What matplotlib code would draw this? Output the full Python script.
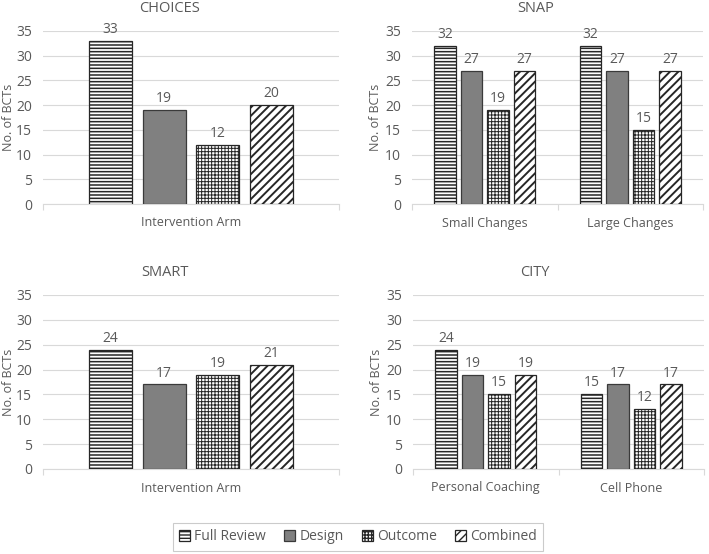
import numpy as np
import matplotlib.pyplot as plt
from matplotlib.patches import Patch

plt.rcParams['font.family'] = ['Open Sans', 'DejaVu Sans']

series = ['Full Review', 'Design', 'Outcome', 'Combined']

choices_cats = ['Intervention Arm']
choices_full = [33]
choices_design = [19]
choices_outcome = [12]
choices_combined = [20]

snap_cats = ['Small Changes', 'Large Changes']
snap_full = [32, 32]
snap_design = [27, 27]
snap_outcome = [19, 15]
snap_combined = [27, 27]

smart_cats = ['Intervention Arm']
smart_full = [24]
smart_design = [17]
smart_outcome = [19]
smart_combined = [21]

city_cats = ['Personal Coaching', 'Cell Phone']
city_full = [24, 15]
city_design = [19, 17]
city_outcome = [15, 12]
city_combined = [19, 17]

txt = '#595959'
grid = '#d9d9d9'
styles = [
    dict(facecolor='white', edgecolor='#262626', hatch='-----'),
    dict(facecolor='#808080', edgecolor='#3a3a3a'),
    dict(facecolor='white', edgecolor='#262626', hatch='+++++'),
    dict(facecolor='white', edgecolor='#262626', hatch='////'),
]
hatch_lw = [1.1, 1.0, 0.7, 1.4]

W, H = 709, 554
fig = plt.figure(figsize=(W / 100, H / 100), dpi=100)


def box(x0, x1, ytop, ybot):
    return [x0 / W, 1 - ybot / H, (x1 - x0) / W, (ybot - ytop) / H]


def panel(rect, title, tx, ty, ylx, cats, data):
    ax = fig.add_axes(rect)
    n = len(cats)
    x = np.arange(n)
    width = 0.145
    step = 0.182
    for i, vals in enumerate(data):
        pos = x + (i - 1.5) * step
        with plt.rc_context({'hatch.linewidth': hatch_lw[i]}):
            ax.bar(pos, vals, width=width, linewidth=0.9, zorder=3, **styles[i])
        for p, v in zip(pos, vals):
            ax.text(p, v + 0.8, str(v), ha='center', va='bottom',
                    fontsize=10, color=txt)
    ax.set_xlim(-0.5, n - 0.5)
    ax.set_ylim(0, 35)
    ax.set_yticks(range(0, 36, 5))
    ax.set_xticks(x)
    ax.set_xticklabels(cats)
    ax.set_xticks(np.arange(n + 1) - 0.5, minor=True)
    ax.tick_params(axis='x', which='major', length=0, pad=9,
                   labelsize=9, labelcolor=txt)
    ax.tick_params(axis='x', which='minor', length=4, color=grid, width=0.8)
    ax.tick_params(axis='y', length=0, pad=8, labelsize=10, labelcolor=txt)
    ax.grid(axis='y', color=grid, linewidth=0.8, zorder=0)
    for s in ['top', 'right', 'left']:
        ax.spines[s].set_visible(False)
    ax.spines['bottom'].set_color(grid)
    ax.spines['bottom'].set_linewidth(0.8)
    fig.text(tx / W, 1 - ty / H, title, ha='center', va='center',
             fontsize=10.5, color=txt)
    yc = rect[1] + rect[3] / 2
    fig.text(ylx / W, yc, 'No. of BCTs', rotation=90, ha='center',
             va='center', fontsize=9, color=txt)
    return ax


panel(box(43, 339, 31, 204), 'CHOICES', 170, 8, 9, choices_cats,
      [choices_full, choices_design, choices_outcome, choices_combined])
panel(box(412, 703, 31, 204), 'SNAP', 536, 8, 376, snap_cats,
      [snap_full, snap_design, snap_outcome, snap_combined])
panel(box(43, 339, 295, 469), 'SMART', 165, 272, 9, smart_cats,
      [smart_full, smart_design, smart_outcome, smart_combined])
panel(box(413, 704, 295, 469), 'CITY', 535, 272, 377, city_cats,
      [city_full, city_design, city_outcome, city_combined])

handles = []
for st, hl in zip(styles, hatch_lw):
    with plt.rc_context({'hatch.linewidth': hl}):
        handles.append(Patch(linewidth=0.9, **st))
leg = fig.legend(handles, series, loc='center', ncol=4,
                 bbox_to_anchor=(358 / W, 1 - 537 / H), fontsize=10,
                 frameon=True, fancybox=False, handlelength=0.8,
                 handleheight=0.8, handletextpad=0.3, columnspacing=1.3,
                 borderpad=0.45)
leg.get_frame().set_edgecolor('#bfbfbf')
leg.get_frame().set_linewidth(0.8)
for t in leg.get_texts():
    t.set_color(txt)

fig.savefig('out.png', dpi=100)
